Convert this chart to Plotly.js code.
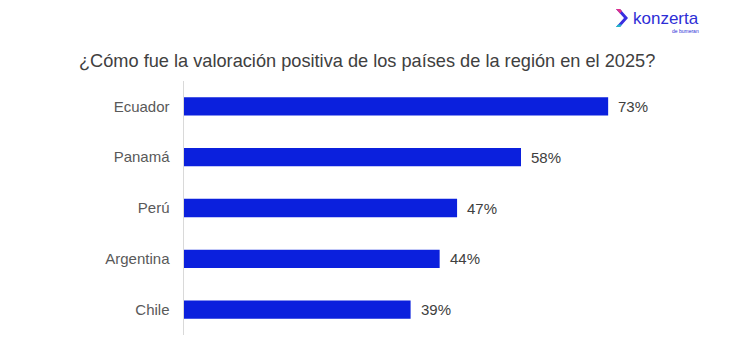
<!DOCTYPE html>
<html>
<head>
<meta charset="utf-8">
<script src="https://cdn.plot.ly/plotly-3.0.1.min.js"></script>
<style>html,body{margin:0;padding:0;background:#fff;}#chart{width:749px;height:358px;}</style>
</head>
<body>
<div id="chart"></div>
<script>
const countries = ["Ecuador", "Panamá", "Perú", "Argentina", "Chile"];
const values = [73, 58, 47, 44, 39];
const valueLabels = ["73%", "58%", "47%", "44%", "39%"];

const trace = {
  type: 'bar',
  orientation: 'h',
  y: countries,
  x: values,
  marker: {color: '#0B20DD'},
  width: 0.36,
  hoverinfo: 'skip'
};

const annotations = countries.map((c, i) => ({
  x: values[i], y: c, xref: 'x', yref: 'y',
  text: valueLabels[i], showarrow: false, xanchor: 'left', xshift: 8,
  font: {family: 'Liberation Sans, Arial, sans-serif', size: 15, color: '#404040'}
}));

annotations.push({
  xref: 'paper', yref: 'paper', x: 0.5, y: 1, xshift: -85, yshift: 20,
  text: '¿Cómo fue la valoración positiva de los países de la región en el 2025?',
  showarrow: false, xanchor: 'center', yanchor: 'middle',
  font: {family: 'Liberation Sans, Arial, sans-serif', size: 18.2, color: '#404040'}
});
// logo text
annotations.push({
  xref: 'paper', yref: 'paper', x: 0, y: 1, xshift: 447, yshift: 63,
  text: 'konzerta', showarrow: false, xanchor: 'left', yanchor: 'middle',
  font: {family: 'Liberation Sans, Arial, sans-serif', size: 17, color: '#2E2ED6'}
});
annotations.push({
  xref: 'paper', yref: 'paper', x: 0, y: 1, xshift: 517, yshift: 50,
  text: 'de bumeran', showarrow: false, xanchor: 'right', yanchor: 'middle',
  font: {family: 'Liberation Sans, Arial, sans-serif', size: 5, color: '#2E2ED6'}
});

const layout = {
  width: 749, height: 358,
  margin: {l: 184, r: 29, t: 80.5, b: 22.5},
  paper_bgcolor: '#ffffff', plot_bgcolor: '#ffffff',
  showlegend: false,
  xaxis: {range: [0, 92.25], showgrid: false, zeroline: false, showticklabels: false, showline: false, fixedrange: true},
  yaxis: {
    autorange: 'reversed', showgrid: false, zeroline: false,
    showline: true, linecolor: '#D9D9D9', linewidth: 1.5,
    ticks: '', ticklabelstandoff: 10,
    tickfont: {family: 'Liberation Sans, Arial, sans-serif', size: 15, color: '#595959'}
  },
  annotations: annotations,
  shapes: [
    {type: 'path', xref: 'paper', yref: 'paper', xsizemode: 'pixel', ysizemode: 'pixel',
     xanchor: 0, yanchor: 1,
     path: 'M 432 72 L 440 63 L 432 54 L 436 54 L 444 63 L 436 72 Z',
     fillcolor: '#3A2EE0', line: {width: 0}},
    {type: 'path', xref: 'paper', yref: 'paper', xsizemode: 'pixel', ysizemode: 'pixel',
     xanchor: 0, yanchor: 1,
     path: 'M 432 72 L 436 67.5 L 438 70 L 436 72 Z',
     fillcolor: '#E0308A', line: {width: 0}},
    {type: 'path', xref: 'paper', yref: 'paper', xsizemode: 'pixel', ysizemode: 'pixel',
     xanchor: 0, yanchor: 1,
     path: 'M 432 54 L 436 54 L 438 56.5 L 434 56.5 Z',
     fillcolor: '#20B8C8', line: {width: 0}}
  ]
};

Plotly.newPlot('chart', [trace], layout, {displayModeBar: false, staticPlot: true});
</script>
</body>
</html>
